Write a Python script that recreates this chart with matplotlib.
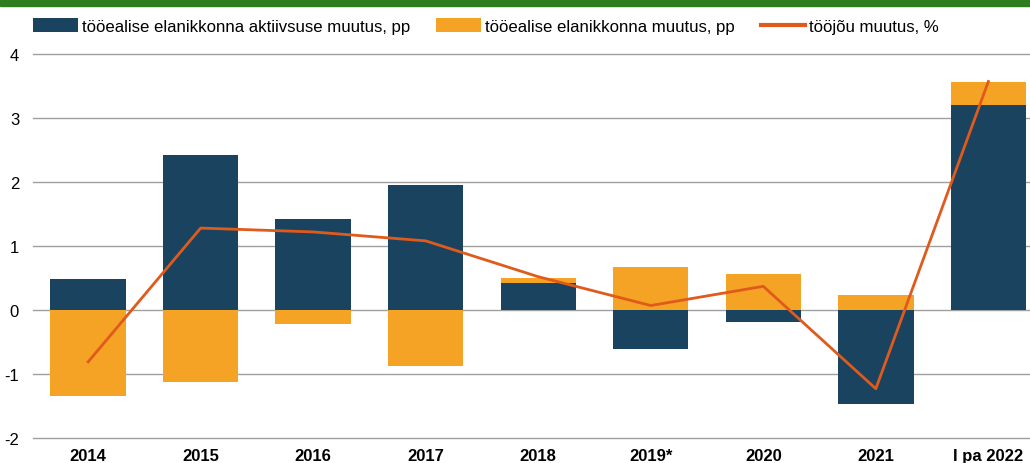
import matplotlib
matplotlib.use("Agg")
import matplotlib.pyplot as plt
import numpy as np
from matplotlib.patches import Rectangle

plt.rcParams['font.family'] = ['Liberation Sans', 'DejaVu Sans']

categories = ['2014', '2015', '2016', '2017', '2018', '2019*', '2020', '2021', 'I pa 2022']
activity = [0.48, 2.42, 1.42, 1.95, 0.42, -0.61, -0.18, -1.47, 3.20]
population = [-1.34, -1.13, -0.22, -0.87, 0.08, 0.67, 0.56, 0.24, 0.37]
labour = [-0.81, 1.28, 1.22, 1.08, 0.52, 0.07, 0.37, -1.23, 3.57]

navy = '#1a4360'
orange = '#f5a324'
red = '#e05a1c'
grid = '#a0a0a0'

fig = plt.figure(figsize=(10.3, 4.64), dpi=100)
ax = fig.add_axes([33 / 1030, 25 / 464, 1 - 33 / 1030, 384 / 464])

x = np.arange(len(categories))
act = np.array(activity)
pop = np.array(population)
bottom = np.where(np.sign(act) == np.sign(pop), act, 0)

b1 = ax.bar(x, act, width=0.67, color=navy, zorder=2)
b2 = ax.bar(x, pop, width=0.67, bottom=bottom, color=orange, zorder=2)
l1, = ax.plot(x, labour, color=red, lw=2, zorder=3)

for v in range(-2, 5):
    ax.axhline(v, color=grid, lw=1, zorder=1, clip_on=False)

ax.set_ylim(-2, 4)
ax.set_xlim(-0.49, 8.37)
for s in ax.spines.values():
    s.set_visible(False)
ax.set_yticks(range(-2, 5))
ax.set_yticklabels([str(v) for v in range(-2, 5)], fontsize=12)
ax.tick_params(axis='y', length=0, pad=10)
ax.set_xticks(x)
ax.set_xticklabels(categories, fontsize=12, fontweight='bold')
ax.tick_params(axis='x', length=0, pad=7)

# green band on top
fig.patches.append(Rectangle((0, 1 - 7 / 464), 1, 7 / 464, transform=fig.transFigure,
                             color='#2f7d1f', zorder=5))

leg = fig.legend([b1, b2, l1],
                 ['tööealise elanikkonna aktiivsuse muutus, pp',
                  'tööealise elanikkonna muutus, pp',
                  'tööjõu muutus, %'],
                 loc='upper left', bbox_to_anchor=(33 / 1030, 1 - 19 / 464), ncol=3,
                 frameon=False, fontsize=12.1, handlelength=2.65, handleheight=0.95,
                 handletextpad=0.25, columnspacing=1.55, borderaxespad=0, borderpad=0)
leg.get_lines()[0].set_linewidth(3)

fig.savefig('out.png', dpi=100)
